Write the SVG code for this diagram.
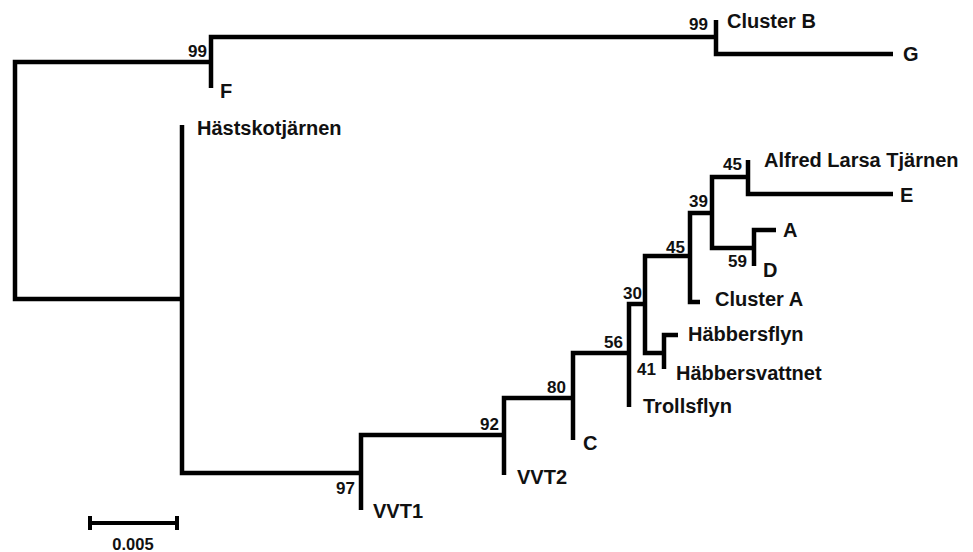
<svg xmlns="http://www.w3.org/2000/svg" width="973" height="552" viewBox="0 0 973 552">
<style>
.br{fill:none;stroke:#000;stroke-width:4.5;stroke-linejoin:miter;stroke-linecap:butt}
.lf{font-family:"Liberation Sans",Arial,sans-serif;font-weight:bold;font-size:20px;fill:#111}
.bs{font-family:"Liberation Sans",Arial,sans-serif;font-weight:bold;font-size:17px;fill:#111;text-anchor:end}
.sc{font-family:"Liberation Sans",Arial,sans-serif;font-weight:bold;font-size:16.5px;fill:#111;text-anchor:middle}
</style>
<rect width="973" height="552" fill="#fff"/>
<g id="connectors">
<path class="br" d="M211,62 H15 V299 H182"/>
<path class="br" d="M716,37 H211 V88"/>
<path class="br" d="M716,20 V54 H893"/>
<path class="br" d="M182,125 V473 H361"/>
<path class="br" d="M504,435 H361 V510"/>
<path class="br" d="M573,398 H504 V475"/>
<path class="br" d="M629,353 H573 V440"/>
<path class="br" d="M645,304 H629 V407"/>
<path class="br" d="M690,256 H645 V353 H664"/>
<path class="br" d="M678,335 H664 V369"/>
<path class="br" d="M712,213 H690 V302 H700"/>
<path class="br" d="M748,177 H712 V248 H754"/>
<path class="br" d="M748,160 V194 H893"/>
<path class="br" d="M776,230 H754 V266"/>
</g>
<g id="node-99a"><text class="bs" x="207" y="57">99</text></g>
<g id="node-99b"><text class="bs" x="708" y="30">99</text></g>
<g id="node-97"><text class="bs" x="355" y="494">97</text></g>
<g id="node-92"><text class="bs" x="499" y="430">92</text></g>
<g id="node-80"><text class="bs" x="566" y="393">80</text></g>
<g id="node-56"><text class="bs" x="623" y="348">56</text></g>
<g id="node-30"><text class="bs" x="642" y="299">30</text></g>
<g id="node-41"><text class="bs" x="656" y="375">41</text></g>
<g id="node-45a"><text class="bs" x="685" y="253">45</text></g>
<g id="node-39"><text class="bs" x="708" y="207">39</text></g>
<g id="node-45b"><text class="bs" x="742" y="170">45</text></g>
<g id="node-59"><text class="bs" x="747" y="267">59</text></g>
<g id="leaf-clusterB"><text class="lf" x="727" y="28">Cluster B</text></g>
<g id="leaf-G"><text class="lf" x="903" y="61">G</text></g>
<g id="leaf-F"><text class="lf" x="220" y="98">F</text></g>
<g id="leaf-hastskotjarnen"><text class="lf" x="197" y="135">Hästskotjärnen</text></g>
<g id="leaf-alfred"><text class="lf" x="764" y="167">Alfred Larsa Tjärnen</text></g>
<g id="leaf-E"><text class="lf" x="900" y="202">E</text></g>
<g id="leaf-A"><text class="lf" x="783" y="237">A</text></g>
<g id="leaf-D"><text class="lf" x="763" y="277">D</text></g>
<g id="leaf-clusterA"><text class="lf" x="715" y="306">Cluster A</text></g>
<g id="leaf-habbersflyn"><text class="lf" x="688" y="341">Häbbersflyn</text></g>
<g id="leaf-habbersvattnet"><text class="lf" x="676" y="380">Häbbersvattnet</text></g>
<g id="leaf-trollsflyn"><text class="lf" x="643" y="413">Trollsflyn</text></g>
<g id="leaf-C"><text class="lf" x="583" y="450">C</text></g>
<g id="leaf-VVT2"><text class="lf" x="517" y="484">VVT2</text></g>
<g id="leaf-VVT1"><text class="lf" x="373" y="518">VVT1</text></g>
<g id="scale">
<path class="br" d="M90,523 H177 M90,516 V530 M177,516 V530" style="stroke-width:4"/>
<text class="sc" x="133" y="550">0.005</text>
</g>
</svg>
